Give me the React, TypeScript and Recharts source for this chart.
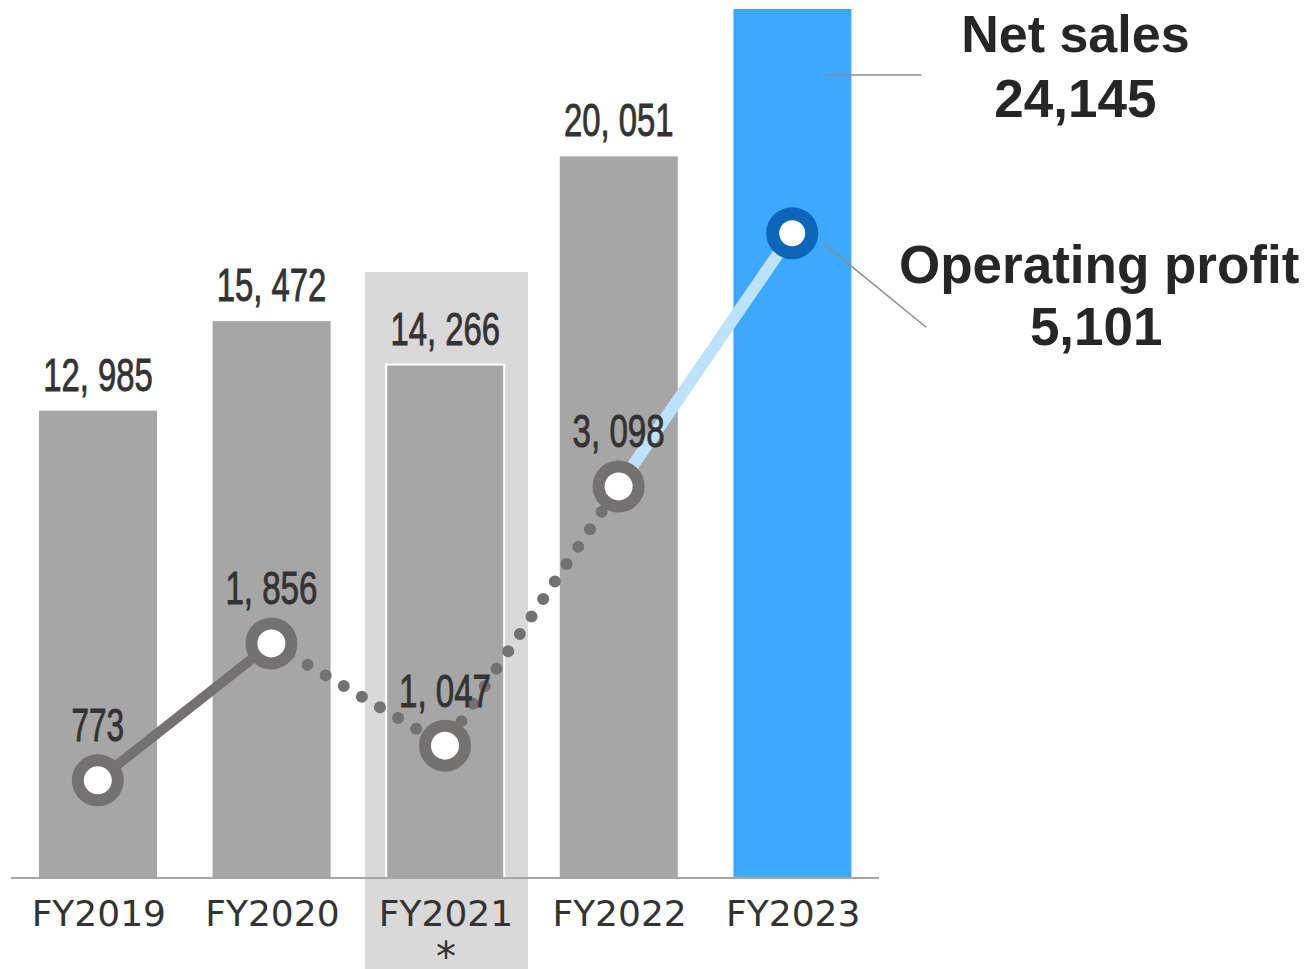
import { ComposedChart, Bar, Line, XAxis, YAxis, ReferenceArea } from 'recharts'

const years = ['FY2019', 'FY2020', 'FY2021', 'FY2022', 'FY2023']
const netSales = [12985, 15472, 14266, 20051, 24145]
const operatingProfit = [773, 1856, 1047, 3098, 5101]
const salesLabels = ['12, 985', '15, 472', '14, 266', '20, 051', '24,145']
const profitLabels = ['773', '1, 856', '1, 047', '3, 098', '5,101']
const highlightYear = 'FY2021'
const highlightNote = '*'
const latestYear = 'FY2023'

const GRAY = '#a6a6a6'
const BLUE = '#3ca8ff'
const DARK = '#767171'
const NAVY = '#0a67b8'
const LIGHT_BLUE = '#bde3fc'
const TEXT = '#333333'

// sales-axis domain and highlight extent (in sales units)
const SALES_MAX = 24145
const PROFIT_MAX = 6875
const HIGHLIGHT_TOP = 16837
const HIGHLIGHT_BOTTOM = -2528

const segment = (from: number, to: number) =>
  operatingProfit.map((v, i) => (i >= from && i <= to ? v : null))
const solidSeg = segment(0, 1)
const dottedSeg = segment(1, 3)
const latestSeg = segment(3, 4)

const data = years.map((year, i) => ({
  year,
  sales: netSales[i],
  profit: operatingProfit[i],
  solid: solidSeg[i],
  dotted: dottedSeg[i],
  latest: latestSeg[i],
}))

function NarrowText({ x, y, text }: { x: number; y: number; text: string }) {
  const digits = text.replace(/[^0-9]/g, '').length
  const len = digits * 17.5 + (text.includes(',') ? 22 : 0)
  return (
    <text
      x={x}
      y={y}
      textAnchor="middle"
      textLength={len}
      lengthAdjust="spacingAndGlyphs"
      fontFamily="'Liberation Sans Narrow', 'Liberation Sans', sans-serif"
      fontSize={46}
      fill={TEXT}
      stroke={TEXT}
      strokeWidth={0.9}
    >
      {text}
    </text>
  )
}

const boldFont = "'Liberation Sans', Arial, sans-serif"

function SalesBar(props: any) {
  const { x, y, width, height, index, payload } = props
  const isHighlight = payload.year === highlightYear
  const isLatest = payload.year === latestYear
  return (
    <g>
      <rect
        x={x}
        y={y}
        width={width}
        height={height}
        fill={isLatest ? BLUE : GRAY}
        stroke={isHighlight ? '#ffffff' : 'none'}
        strokeWidth={2}
      />
      {isLatest ? (
        <g>
          <line x1={x + width * 0.78} y1={y + 66} x2={x + width + 70} y2={y + 66} stroke="#8c8c8c" strokeWidth={1.5} />
          <text x={x + width + 224} y={y + 43} textAnchor="middle" fontFamily={boldFont} fontWeight="bold" fontSize={52} fill="#262626">
            Net sales
          </text>
          <text x={x + width + 224} y={y + 108} textAnchor="middle" fontFamily={boldFont} fontWeight="bold" fontSize={53} fill="#262626">
            {salesLabels[index]}
          </text>
        </g>
      ) : (
        <NarrowText x={x + width / 2} y={y - 20} text={salesLabels[index]} />
      )}
    </g>
  )
}

function ProfitLabel(props: any) {
  const { cx, cy, index, payload } = props
  if (payload.year === latestYear) {
    return (
      <g key={`pl-${index}`}>
        <line x1={cx + 31} y1={cy + 10} x2={cx + 134} y2={cy + 94} stroke="#8c8c8c" strokeWidth={1.5} />
        <text x={cx + 307} y={cy + 50} textAnchor="middle" fontFamily={boldFont} fontWeight="bold" fontSize={53} fill="#262626">
          Operating profit
        </text>
        <text x={cx + 304} y={cy + 112} textAnchor="middle" fontFamily={boldFont} fontWeight="bold" fontSize={53} fill="#262626">
          {profitLabels[index]}
        </text>
      </g>
    )
  }
  return (
    <g key={`pl-${index}`}>
      <NarrowText x={cx} y={cy - 39} text={profitLabels[index]} />
    </g>
  )
}

function Marker(props: any) {
  const { cx, cy, index, payload } = props
  const isLatest = payload.year === latestYear
  return (
    <circle
      key={`mk-${index}`}
      cx={cx}
      cy={cy}
      r={isLatest ? 19.5 : 20}
      fill="#ffffff"
      stroke={isLatest ? NAVY : DARK}
      strokeWidth={isLatest ? 13 : 12}
    />
  )
}

function YearTick(props: any) {
  const { x, y, payload } = props
  return (
    <g>
      <text x={x + 1} y={y + 48} textAnchor="middle" fontFamily="'DejaVu Sans', sans-serif" fontSize={36} fill={TEXT}>
        {payload.value}
      </text>
      {payload.value === highlightYear && (
        <text x={x + 1} y={y + 93} textAnchor="middle" fontFamily="'DejaVu Sans', sans-serif" fontSize={40} fill={TEXT}>
          {highlightNote}
        </text>
      )}
    </g>
  )
}

function HighlightShape(props: any) {
  const { x, y, width, height } = props
  const cx = x + width / 2
  return <rect x={cx - 80} y={y} width={163} height={height} fill="#d9d9d9" />
}

export default function App() {
  return (
    <div style={{ position: 'absolute', left: 0, top: 0, width: 1307, height: 969, background: '#fff' }}>
      <ComposedChart
        width={1307}
        height={969}
        data={data}
        margin={{ top: 9, right: 428, left: 11, bottom: 0 }}
      >
        <XAxis
          dataKey="year"
          height={91}
          interval={0}
          tickLine={false}
          tickSize={0}
          tickMargin={0}
          axisLine={{ stroke: '#a6a6a6', strokeWidth: 2 }}
          tick={<YearTick />}
        />
        <YAxis yAxisId="sales" hide domain={[0, SALES_MAX]} allowDataOverflow />
        <YAxis yAxisId="profit" orientation="right" hide domain={[0, PROFIT_MAX]} allowDataOverflow />
        <ReferenceArea
          yAxisId="sales"
          x1={highlightYear}
          x2={highlightYear}
          y1={HIGHLIGHT_BOTTOM}
          y2={HIGHLIGHT_TOP}
          ifOverflow="visible"
          shape={<HighlightShape />}
        />
        <Bar yAxisId="sales" dataKey="sales" barSize={118} shape={<SalesBar />} isAnimationActive={false} />
        <Line
          yAxisId="profit"
          dataKey="profit"
          stroke="none"
          dot={ProfitLabel}
          activeDot={false}
          isAnimationActive={false}
        />
        <Line
          yAxisId="profit"
          dataKey="solid"
          stroke={DARK}
          strokeWidth={10}
          dot={false}
          activeDot={false}
          connectNulls={false}
          isAnimationActive={false}
        />
        <Line
          yAxisId="profit"
          dataKey="dotted"
          stroke={DARK}
          strokeWidth={12}
          strokeDasharray="0 21"
          strokeLinecap="round"
          dot={false}
          activeDot={false}
          connectNulls={false}
          isAnimationActive={false}
        />
        <Line
          yAxisId="profit"
          dataKey="latest"
          stroke={LIGHT_BLUE}
          strokeWidth={12}
          dot={false}
          activeDot={false}
          connectNulls={false}
          isAnimationActive={false}
        />
        <Line
          yAxisId="profit"
          dataKey="profit"
          stroke="none"
          dot={Marker}
          activeDot={false}
          isAnimationActive={false}
        />
      </ComposedChart>
    </div>
  )
}
